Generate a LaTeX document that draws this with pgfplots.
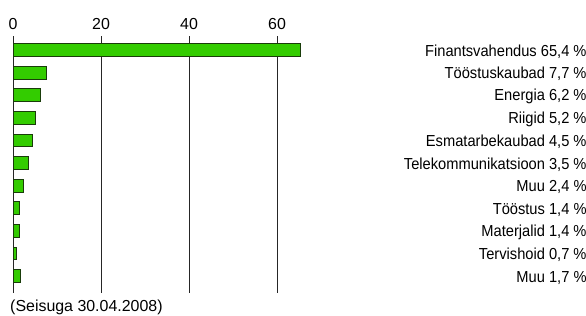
\documentclass[border=0pt]{standalone}
\usepackage{pgfplots}
\pgfplotsset{compat=1.18}
\usepackage{fontspec}
\setmainfont{Liberation Sans}[FakeStretch=0.92]
\newfontfamily\plainfont{Liberation Sans}
\definecolor{bargreen}{RGB}{51,204,0}
\definecolor{baredge}{RGB}{25,60,10}
\begin{document}
\begin{tikzpicture}[font=\fontsize{16}{18}\selectfont]
\path[use as bounding box] (-13bp,-23bp) rectangle (573bp,293bp);
\begin{axis}[at={(0,0)}, anchor=south west, scale only axis,
  width=573bp, height=257bp,
  xmin=0, xmax=130.2, ymin=-0.62, ymax=10.75, y dir=reverse,
  xbar, bar width=12.7bp, bar shift=0pt,
  axis line style={draw=none}, major tick style={draw=none},
  xtick={0,20,40,60}, xticklabel pos=upper,
  xticklabel style={yshift=3bp, font=\plainfont\fontsize{16}{18}\selectfont},
  /pgf/number format/assume math mode=true,
  xmajorgrids, grid style={black!85, line width=0.7bp},
  ytick={0,...,10}, yticklabel pos=upper,
  yticklabels={{Finantsvahendus 65,4 \%},{Tööstuskaubad 7,7 \%},{Energia 6,2 \%},{Riigid 5,2 \%},{Esmatarbekaubad 4,5 \%},{Telekommunikatsioon 3,5 \%},{Muu 2,4 \%},{Tööstus 1,4 \%},{Materjalid 1,4 \%},{Tervishoid 0,7 \%},{Muu 1,7 \%}},
  yticklabel style={anchor=east, inner xsep=0pt, xshift=-3.5bp, yshift=-1.5bp},
  clip=false]
\addplot[fill=bargreen, draw=baredge, line width=0.8bp] coordinates {
  (65.4,0) (7.7,1) (6.2,2) (5.2,3) (4.5,4) (3.5,5) (2.4,6) (1.4,7) (1.4,8) (0.7,9) (1.7,10)};
\end{axis}
\node[anchor=base west, inner sep=0pt, font=\plainfont\fontsize{16}{18}\selectfont] at (-3bp,-18bp) {(Seisuga 30.04.2008)};
\end{tikzpicture}
\end{document}
